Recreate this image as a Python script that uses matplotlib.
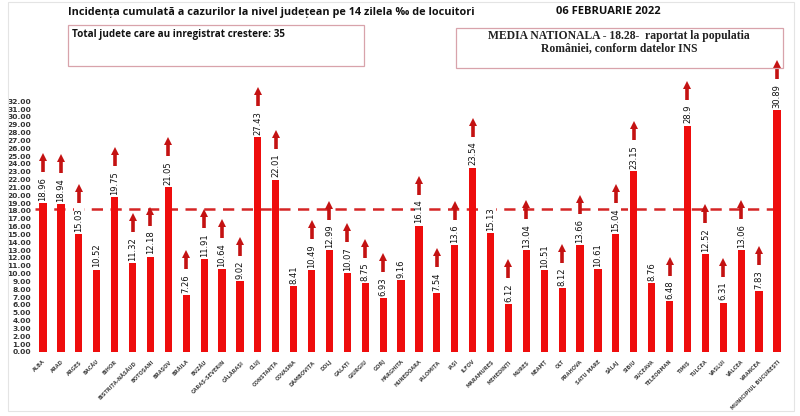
import numpy as np
import matplotlib
matplotlib.use("Agg")
import matplotlib.pyplot as plt
from matplotlib.patches import Rectangle

judete = ["ALBA", "ARAD", "ARGEȘ", "BACĂU", "BIHOR", "BISTRIȚA-NĂSĂUD", "BOTOȘANI",
          "BRAȘOV", "BRĂILA", "BUZĂU", "CARAȘ-SEVERIN", "CĂLĂRAȘI", "CLUJ", "CONSTANȚA",
          "COVASNA", "DÂMBOVIȚA", "DOLJ", "GALAȚI", "GIURGIU", "GORJ", "HARGHITA",
          "HUNEDOARA", "IALOMIȚA", "IAȘI", "ILFOV", "MARAMUREȘ", "MEHEDINȚI", "MUREȘ",
          "NEAMȚ", "OLT", "PRAHOVA", "SATU MARE", "SĂLAJ", "SIBIU", "SUCEAVA",
          "TELEORMAN", "TIMIȘ", "TULCEA", "VASLUI", "VÂLCEA", "VRANCEA",
          "MUNICIPIUL BUCUREȘTI"]
incidenta = [18.96, 18.94, 15.03, 10.52, 19.75, 11.32, 12.18, 21.05, 7.26, 11.91,
             10.64, 9.02, 27.43, 22.01, 8.41, 10.49, 12.99, 10.07, 8.75, 6.93, 9.16,
             16.14, 7.54, 13.6, 23.54, 15.13, 6.12, 13.04, 10.51, 8.12, 13.66, 10.61,
             15.04, 23.15, 8.76, 6.48, 28.9, 12.52, 6.31, 13.06, 7.83, 30.89]
# 1 = judetul a inregistrat crestere (sageata)
crestere = [1, 1, 1, 0, 1, 1, 1, 1, 1, 1, 1, 1, 1, 1, 0, 1, 1, 1, 1, 1, 0,
            1, 1, 1, 1, 0, 1, 1, 0, 1, 1, 0, 1, 1, 0, 1, 1, 1, 1, 1, 1, 1]
media = 18.28
yticks = np.arange(0, 33, 1)

BAR = "#ee0d0d"
ARROW = "#c41212"

fig = plt.figure(figsize=(8, 4.16), dpi=100)
ax = fig.add_axes([35 / 800, 64 / 416, 750 / 800, 286 / 416])

x = np.arange(len(judete))
ax.bar(x, incidenta, width=0.4, color=BAR, zorder=2)
ax.axhline(media, color="#d52525", lw=1.8, dashes=(4.5, 3), zorder=1)

ax.set_xlim(-0.45, len(judete) - 0.55)
ax.set_ylim(0, 36.5)
ax.set_yticks(yticks)
ax.set_yticklabels([f"{v:.2f}" for v in yticks], fontsize=5.4, fontweight="bold", color="#333333")
ax.set_xticks(x)
ax.set_xticklabels(judete, rotation=45, ha="right", va="top", rotation_mode="anchor",
                   fontsize=3.6, fontweight="bold", color="#444444")
ax.tick_params(axis="x", length=0, pad=5)
ax.tick_params(axis="y", length=0, pad=3)
for s in ax.spines.values():
    s.set_visible(False)

# etichete valori
labels = []
for i, v in enumerate(incidenta):
    t = ax.annotate(f"{v:g}", xy=(i, v), xytext=(0, 1.5), textcoords="offset points",
                    rotation=90, ha="center", va="bottom", fontsize=6, color="#111111",
                    bbox=dict(boxstyle="square,pad=0.1", fc="white", ec="none"), zorder=3)
    labels.append(t)

# sageti deasupra etichetelor
fig.canvas.draw()
r = fig.canvas.get_renderer()
inv = ax.transData.inverted()
for i, (t, c) in enumerate(zip(labels, crestere)):
    if not c:
        continue
    bb = t.get_window_extent(r)
    xp = ax.transData.transform((i, 0))[0]
    y0 = inv.transform((xp, bb.y1 + 5))[1]
    y1 = inv.transform((xp, bb.y1 + 19))[1]
    yh = inv.transform((xp, bb.y1 + 20))[1]
    ax.plot([i, i], [y0, y1], color=ARROW, lw=2.6, solid_capstyle="butt", zorder=3, clip_on=False)
    ax.plot([i], [yh], marker="^", ms=5.5, color=ARROW, mew=0, zorder=3, clip_on=False)

# titlu si casete
fig.text(68 / 800, 1 - 12 / 416, "Incidența cumulată a cazurilor la nivel județean pe 14 zilela ‰ de locuitori",
         fontsize=7.8, fontweight="bold", family="Open Sans", va="center", color="#111111")
fig.text(608 / 800, 1 - 12 / 416, "06 FEBRUARIE 2022", fontsize=8, fontweight="bold",
         family="Open Sans", va="center", ha="center", color="#111111")

fig.patches.append(Rectangle((68 / 800, 1 - 66 / 416), 296 / 800, 41 / 416,
                             transform=fig.transFigure, fill=False, ec="#d8a3ab", lw=0.9))
fig.text(72 / 800, 1 - 35 / 416, "Total judete care au inregistrat crestere: 35",
         fontsize=7.1, fontweight="bold", family="Open Sans", va="center", color="#111111")

fig.patches.append(Rectangle((456 / 800, 1 - 68 / 416), 327 / 800, 40 / 416,
                             transform=fig.transFigure, fill=False, ec="#d8a3ab", lw=0.9))
fig.text(619 / 800, 1 - 42 / 416,
         "MEDIA NATIONALA - 18.28-  raportat la populatia\nRomâniei, conform datelor INS",
         fontsize=8.4, fontweight="bold", family="Liberation Serif", va="center", ha="center",
         linespacing=1.05, color="#222222")

# chenar gri deschis
fig.patches.append(Rectangle((8 / 800, 1 - 411 / 416), 786 / 800, 409 / 416,
                             transform=fig.transFigure, fill=False, ec="#e4e4e4", lw=0.8))

fig.savefig("out.png", dpi=100)
